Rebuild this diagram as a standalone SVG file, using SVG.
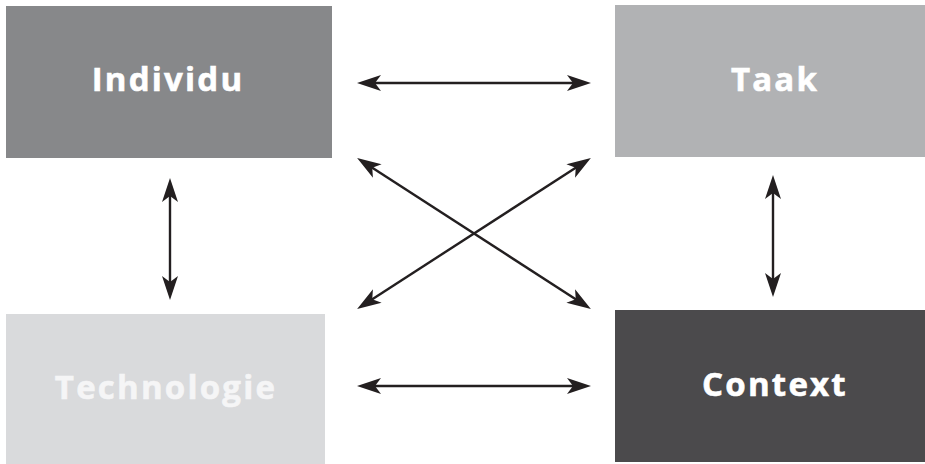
<svg xmlns="http://www.w3.org/2000/svg" width="925" height="464" viewBox="0 0 925 464">
<style>
.lbl{font-family:"Open Sans","Liberation Sans",sans-serif;font-weight:bold;font-size:33px;letter-spacing:2.2px;fill:#ffffff;stroke:#ffffff;stroke-width:0.6;text-anchor:middle}
.con{stroke:#231f20;stroke-width:2.4;fill:none;marker-start:url(#ah);marker-end:url(#ah)}
</style>
<defs>
<marker id="ah" markerUnits="userSpaceOnUse" markerWidth="26" markerHeight="18" refX="17" refY="8" orient="auto-start-reverse" overflow="visible">
<path d="M24,8 L0,0 L6,8 L0,16 Z" fill="#231f20"/>
</marker>
</defs>
<rect width="925" height="464" fill="#ffffff"/>
<g id="individu">
<rect x="6" y="6" width="326" height="152" fill="#87888a"/>
<text class="lbl" x="168" y="91">Individu</text>
</g>
<g id="taak">
<rect x="615" y="5" width="310" height="152" fill="#b1b2b4"/>
<text class="lbl" x="775" y="91">Taak</text>
</g>
<g id="technologie">
<rect x="6" y="314" width="319" height="150" fill="#d9dadc"/>
<text class="lbl" x="166" y="399" style="fill:#f5f5f6;stroke:#f5f5f6">Technologie</text>
</g>
<g id="context">
<rect x="615" y="310" width="310" height="152" fill="#4b4a4c"/>
<text class="lbl" x="775" y="396">Context</text>
</g>
<g id="connectors">
<line class="con" x1="364" y1="83" x2="584" y2="83"/>
<line class="con" x1="364" y1="386" x2="584" y2="386"/>
<line class="con" x1="363" y1="161.8" x2="585" y2="305.2"/>
<line class="con" x1="363" y1="305.2" x2="585" y2="161.8"/>
<line class="con" x1="170" y1="185" x2="170" y2="293"/>
<line class="con" x1="773" y1="182" x2="773" y2="290"/>
</g>
</svg>
